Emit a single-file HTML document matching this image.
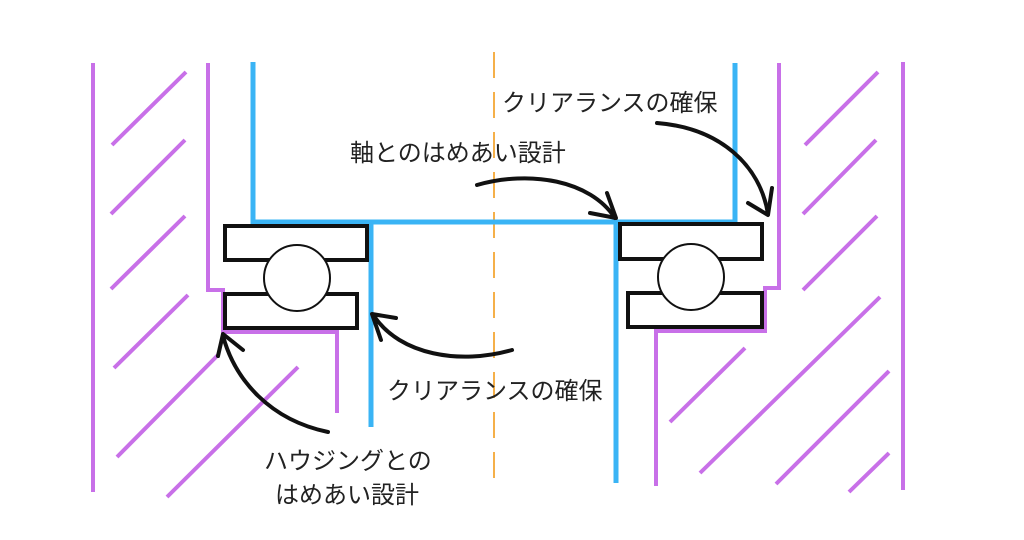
<!DOCTYPE html>
<html><head><meta charset="utf-8"><style>
html,body{margin:0;padding:0;background:#fff;width:1024px;height:540px;overflow:hidden}
svg text{font-family:"Liberation Sans","Noto Sans CJK JP",sans-serif;font-size:24px;fill:#222}
</style></head><body>
<svg width="1024" height="540" viewBox="0 0 1024 540" xmlns="http://www.w3.org/2000/svg">
<g stroke="#f5b04a" stroke-width="2" fill="none">
<line x1="494" y1="52" x2="494" y2="486" stroke-dasharray="26,14"/>
</g>
<g stroke="#c870e8" stroke-width="4" fill="none" stroke-linecap="butt">
<line x1="93" y1="63" x2="93" y2="492"/>
<polyline points="208,63 208,290 223,290 223,332 337,332 337,413"/>
<line x1="112" y1="145" x2="186" y2="72"/>
<line x1="111" y1="214" x2="185" y2="140"/>
<line x1="111" y1="289" x2="185" y2="216"/>
<line x1="114" y1="368" x2="188" y2="295"/>
<line x1="117" y1="457" x2="218" y2="355"/>
<line x1="167" y1="497" x2="298" y2="367"/>
<line x1="903" y1="62" x2="903" y2="490"/>
<polyline points="779,63 779,288 765,288 765,331 656,331 656,486"/>
<line x1="805" y1="145" x2="878" y2="72"/>
<line x1="803" y1="214" x2="876" y2="140"/>
<line x1="803" y1="290" x2="877" y2="216"/>
<line x1="670" y1="422" x2="745" y2="348"/>
<line x1="700" y1="473" x2="880" y2="297"/>
<line x1="776" y1="484" x2="889" y2="371"/>
<line x1="849" y1="492" x2="889" y2="453"/>
</g>
<g stroke="#3ab4f5" stroke-width="5" fill="none">
<polyline points="253,62 253,222 735,222 735,63"/>
<line x1="371" y1="222" x2="371" y2="427"/>
<line x1="616" y1="222" x2="616" y2="483"/>
</g>
<g stroke="#111" stroke-width="4" fill="#fff">
<rect x="225" y="226" width="142" height="34"/>
<rect x="225" y="294" width="132" height="34"/>
<rect x="620" y="224" width="142" height="35"/>
<rect x="628" y="293" width="134" height="34"/>
</g>
<g stroke="#111" stroke-width="2" fill="#fff">
<circle cx="297" cy="278" r="33"/>
<circle cx="691" cy="277" r="33"/>
</g>
<g stroke="#111" stroke-width="4" fill="none" stroke-linecap="round" stroke-linejoin="round">
<path d="M328,432 C270,420 235,380 223,336"/>
<path d="M218,356 L223,334 L243,350"/>
<path d="M512,350 C460,365 400,355 374,316"/>
<path d="M381,340 L372,314 L396,318"/>
<path d="M477,185 C530,170 590,180 615,218"/>
<path d="M590,213 L616,218 L607,193"/>
<path d="M657,123 C720,128 760,165 768,214"/>
<path d="M748,203 L768,215 L772,188"/>
</g>
<text x="502" y="111">クリアランスの確保</text>
<text x="350" y="161">軸とのはめあい設計</text>
<text x="387" y="399">クリアランスの確保</text>
<text x="264" y="469">ハウジングとの</text>
<text x="275" y="503">はめあい設計</text>
</svg>
</body></html>
